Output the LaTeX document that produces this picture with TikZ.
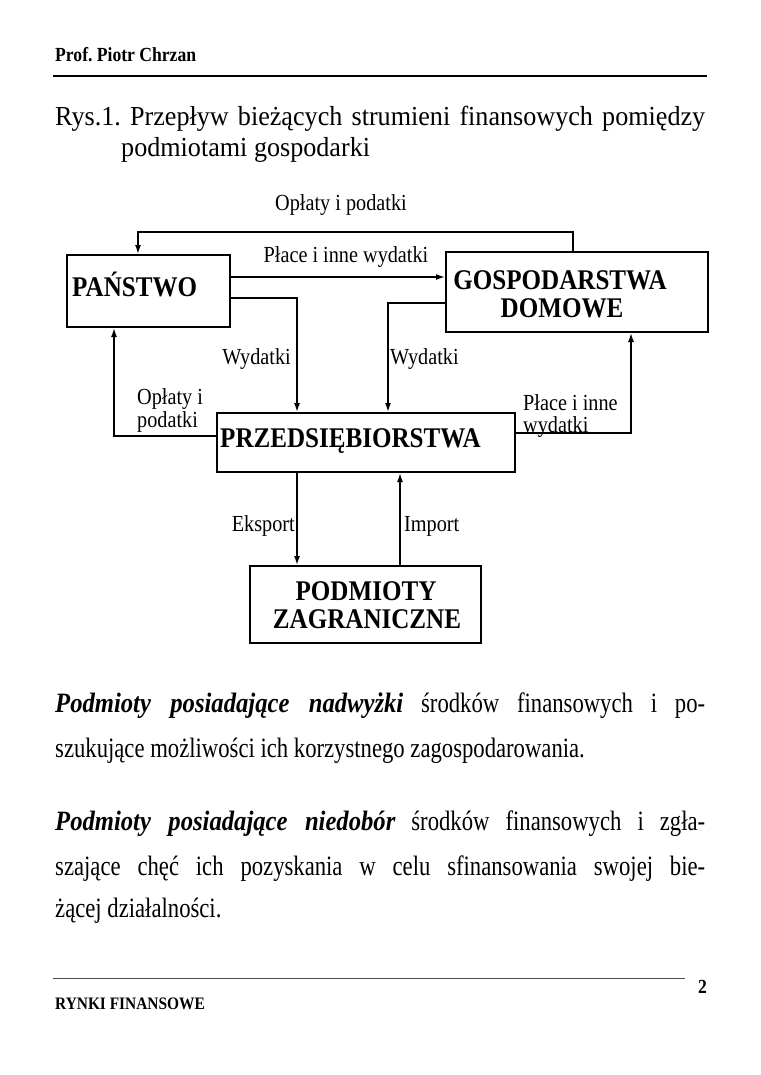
\documentclass[tikz,border=0pt]{standalone}
\usepackage{fontspec}
\setmainfont{Liberation Serif}
\newfontfamily\cond{Liberation Serif}[FakeStretch=0.88]
\newfontfamily\titlef{Liberation Serif}[FakeStretch=0.95]
\newfontfamily\paraf{Liberation Serif}[FakeStretch=0.81]
\newfontfamily\parabi{Liberation Serif}[FakeStretch=0.88]
\frenchspacing
\usetikzlibrary{arrows.meta}
\begin{document}
\begin{tikzpicture}[x=1pt,y=-1pt,
  box/.style={draw, line width=2pt, inner sep=0pt},
  arr/.style={-{Latex[length=9pt,width=6pt]}, line width=1.5pt},
  lbl/.style={font=\cond\fontsize{23}{25}\selectfont, inner sep=0pt},
  boxtxt/.style={font=\cond\bfseries\fontsize{28.5}{30}\selectfont, inner sep=0pt},
  para/.style={font=\paraf\fontsize{28}{32}\selectfont, inner sep=0pt, anchor=base west},
  titletxt/.style={font=\titlef\fontsize{27.5}{30}\selectfont, inner sep=0pt, anchor=base west},
  headtxt/.style={font=\cond\bfseries\fontsize{20}{22}\selectfont, inner sep=0pt, anchor=base west}]
\useasboundingbox (0,0) rectangle (760,1075);
\fill[white] (0,0) rectangle (760,1075);

% header
\node[headtxt] (hdr) at (55,62) {Prof. Piotr Chrzan};
\draw[line width=2.5pt] (53,76) -- (707,76);

% title
\node[titletxt] (tit1) at (55,126)
  {\makebox[650pt][s]{Rys.1. Przepływ bieżących strumieni finansowych pomiędzy}};
\node[titletxt] (tit2) at (121,157) {podmiotami gospodarki};

% boxes
\node[box, minimum width=163pt, minimum height=72pt] (pan) at (148.5,291) {};
\node[box, minimum width=262pt, minimum height=80pt] (gosp) at (577,292) {};
\node[box, minimum width=298pt, minimum height=59pt] (przed) at (366,442.5) {};
\node[box, minimum width=231pt, minimum height=77pt] (podm) at (365.5,604.5) {};

\node[boxtxt, anchor=base west] (panT) at (72,296) {PAŃSTWO};
\node[boxtxt, anchor=base] (gospT1) at (560,289) {GOSPODARSTWA};
\node[boxtxt, anchor=base] (gospT2) at (562,317) {DOMOWE};
\node[boxtxt, anchor=base west] (przedT) at (220,447) {PRZEDSIĘBIORSTWA};
\node[boxtxt, anchor=base] (podmT1) at (366,600) {PODMIOTY};
\node[boxtxt, anchor=base] (podmT2) at (367,628) {ZAGRANICZNE};

% helper coordinates
\coordinate (cR) at (573,232);
\coordinate (cL) at (138,232);
\coordinate (cP) at (0,277);
\coordinate (cW1) at (297,298);
\coordinate (cW2) at (388,303);
\coordinate (cO) at (114,436);
\coordinate (cH) at (631,433);
\coordinate (cI) at (400,0);

% connectors
\draw[arr] (gosp.north -| cR) |- (cL) -- (pan.north -| cL);
\draw[arr] (pan.east |- cP) -- (gosp.west |- cP);
\draw[arr] (pan.east |- cW1) -| (przed.north -| cW1);
\draw[arr] (gosp.west |- cW2) -| (przed.north -| cW2);
\draw[arr] (przed.west |- cO) -| (pan.south -| cO);
\draw[arr] (przed.east |- cH) -| (gosp.south -| cH);
\draw[arr] (przed.south -| cW1) -- (podm.north -| cW1);
\draw[arr] (podm.north -| cI) -- (przed.south -| cI);

% labels
\node[lbl, anchor=base] (l1) at (341,211) {Opłaty i podatki};
\node[lbl, anchor=base] (l2) at (346,262) {Płace i inne wydatki};
\node[lbl, anchor=base east] (l3) at (291,364) {Wydatki};
\node[lbl, anchor=base west] (l4) at (390,364) {Wydatki};
\node[lbl, anchor=base west] (l5a) at (137,404) {Opłaty i};
\node[lbl, anchor=base west] (l5b) at (137,427) {podatki};
\node[lbl, anchor=base west] (l6a) at (523,410) {Płace i inne};
\node[lbl, anchor=base west] (l6b) at (523,432) {wydatki};
\node[lbl, anchor=base east] (l7) at (295,531) {Eksport};
\node[lbl, anchor=base west] (l8) at (404,531) {Import};

% paragraphs
\node[para] (p1) at (55,712) {\makebox[650pt][s]{{\parabi\bfseries\itshape Podmioty posiadające nadwyżki} środków finansowych i po-}};
\node[para] (p2) at (55,757) {szukujące możliwości ich korzystnego zagospodarowania.};
\node[para] (p3) at (55,830) {\makebox[650pt][s]{{\parabi\bfseries\itshape Podmioty posiadające niedobór} środków finansowych i zgła-}};
\node[para] (p4) at (55,875) {\makebox[650pt][s]{szające chęć ich pozyskania w celu sfinansowania swojej bie-}};
\node[para] (p5) at (55,917) {żącej działalności.};

% footer
\draw[line width=0.8pt, black!70] (53,978) -- (685,978);
\node[headtxt] (pg) at (698,993) {2};
\node[font=\cond\bfseries\fontsize{17.5}{20}\selectfont, inner sep=0pt, anchor=base west] (ftr) at (55,1009) {RYNKI FINANSOWE};
\end{tikzpicture}
\end{document}
